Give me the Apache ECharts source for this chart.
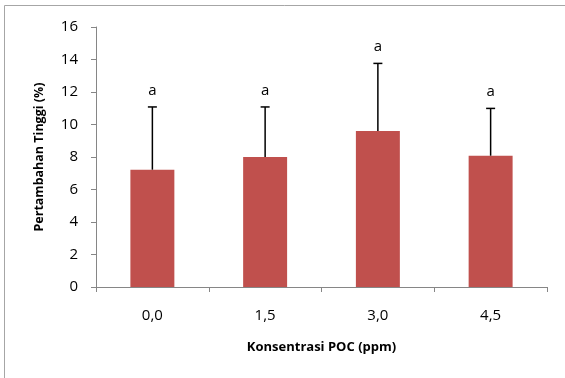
<!DOCTYPE html>
<html>
<head>
<meta charset="utf-8">
<script src="https://cdn.jsdelivr.net/npm/echarts@6/dist/echarts.min.js"></script>
<style>
  html, body { margin: 0; padding: 0; background: #fff; }
  #chart { width: 565px; height: 378px; }
</style>
</head>
<body>
<div id="chart"></div>
<script>
const kategori = ['0,0', '1,5', '3,0', '4,5'];
const rataRata = [7.22, 8.0, 9.6, 8.08];
const galat = [3.86, 3.08, 4.16, 2.91];
const notasi = ['a', 'a', 'a', 'a'];

let chartTinggi = echarts.init(document.getElementById('chart'));

const errorData = kategori.map((k, i) => [i, rataRata[i], rataRata[i] + galat[i], notasi[i]]);

const option = {
    animation: false,
    textStyle: { fontFamily: 'Open Sans, Liberation Sans, sans-serif' },
    // bingkai luar: hanya sisi atas dan kiri yang terlihat
    graphic: [{
        type: 'polyline',
        shape: { points: [[4.5, 378], [4.5, 5.5], [565, 5.5]] },
        style: { fill: 'none', stroke: '#A6A6A6', lineWidth: 1 },
        silent: true
    }],
    grid: {
        left: 96,
        right: 18,
        top: 27,
        bottom: 91
    },
    xAxis: {
        type: 'category',
        data: kategori,
        name: 'Konsentrasi POC (ppm)',
        nameLocation: 'middle',
        nameGap: 54,
        nameTextStyle: { fontSize: 13, fontWeight: 'bold', color: '#000' },
        axisLine: { lineStyle: { color: '#868686', width: 1 } },
        axisTick: { show: true, length: 5, lineStyle: { color: '#868686' } },
        axisLabel: { fontSize: 15, color: '#000', margin: 21 }
    },
    yAxis: {
        type: 'value',
        min: 0,
        max: 16,
        interval: 2,
        name: 'Pertambahan Tinggi (%)',
        nameLocation: 'middle',
        nameGap: 50,
        nameTextStyle: { fontSize: 12.5, fontWeight: 'bold', color: '#000' },
        axisLine: { show: true, lineStyle: { color: '#868686', width: 1 } },
        axisTick: { show: true, length: 5, lineStyle: { color: '#868686' } },
        axisLabel: { fontSize: 15, color: '#000', margin: 18 },
        splitLine: { show: false }
    },
    series: [
        {
            type: 'bar',
            data: rataRata,
            barWidth: '39%',
            itemStyle: { color: '#C0504D' }
        },
        {
            type: 'custom',
            data: errorData,
            renderItem: function (params, api) {
                const bawah = api.coord([api.value(0), api.value(1)]);
                const atas = api.coord([api.value(0), api.value(2)]);
                const cap = 4.5;
                const gaya = { stroke: '#000', lineWidth: 1.5 };
                return {
                    type: 'group',
                    children: [
                        { type: 'line', shape: { x1: atas[0], y1: bawah[1], x2: atas[0], y2: atas[1] }, style: gaya },
                        { type: 'line', shape: { x1: atas[0] - cap, y1: atas[1], x2: atas[0] + cap, y2: atas[1] }, style: gaya },
                        {
                            type: 'text',
                            x: atas[0],
                            y: atas[1] - 9,
                            style: {
                                text: api.value(3),
                                fill: '#000',
                                fontSize: 15,
                                fontFamily: 'Open Sans, Liberation Sans, sans-serif',
                                align: 'center',
                                verticalAlign: 'bottom'
                            }
                        }
                    ]
                };
            },
            z: 3
        }
    ]
};

option && chartTinggi.setOption(option);
window.addEventListener('resize', chartTinggi.resize);
</script>
</body>
</html>
